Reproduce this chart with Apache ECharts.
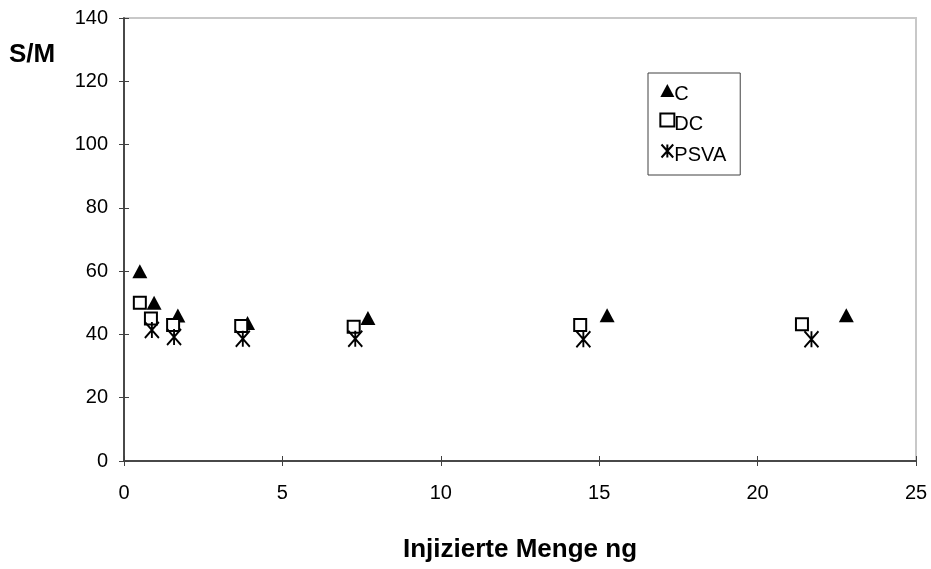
<!doctype html>
<html lang="de">
<head>
    <meta charset="UTF-8">
    <script src="https://cdn.jsdelivr.net/npm/echarts@6/dist/echarts.min.js"></script>
    <title>S/M gegen injizierte Menge</title>
    <style>
        body { margin: 0; background: #fff; }
    </style>
</head>
<body>
<div id="main" style="width: 931px;height:569px;"></div>
<script>
    // Messwerte [Menge ng, S/M]
    var seriesNames = ['C', 'DC', 'PSVA'];
    var dataC = [[0.5, 60], [0.95, 50], [1.7, 46], [3.9, 43.6], [7.7, 45.2], [15.25, 46.1], [22.8, 46.1]];
    var dataDC = [[0.5, 50], [0.85, 45], [1.55, 43], [3.7, 42.7], [7.25, 42.4], [14.4, 43], [21.4, 43.2]];
    var dataPSVA = [[0.88, 41.4], [1.58, 39.2], [3.75, 38.6], [7.3, 38.6], [14.5, 38.5], [21.7, 38.5]];

    var font = 'Liberation Sans, Arial, sans-serif';
    var starPath = 'path://M0,-10L0,10M-9,-10L9,10M-9,10L9,-10';

    var myChart = echarts.init(document.getElementById('main'));

    // Achsen doppelt, damit die Striche durch die Achse gehen
    var xBase = {
        type: 'value', min: 0, max: 25, interval: 5,
        axisLine: {lineStyle: {color: '#404040', width: 1.5}},
        splitLine: {show: false}
    };
    var yBase = {
        type: 'value', min: 0, max: 140, interval: 20,
        axisLine: {lineStyle: {color: '#404040', width: 1.5}},
        splitLine: {show: false}
    };

    var option = {
        animation: false,
        textStyle: {fontFamily: font},
        title: {
            text: 'S/M', left: 9, top: 42, padding: 0,
            textStyle: {fontFamily: font, fontSize: 26, fontWeight: 'bold', color: '#000'}
        },
        grid: {
            left: 124, right: 15, top: 18, bottom: 108,
            show: true, borderColor: '#c8c8c8', borderWidth: 2
        },
        legend: {
            orient: 'vertical', left: 648, top: 73,
            data: seriesNames,
            borderColor: '#404040', borderWidth: 1,
            padding: [11, 14, 10, 11],
            itemGap: 8, itemWidth: 14, itemHeight: 13,
            formatter: '{t|{name}}',
            textStyle: {
                fontFamily: font, fontSize: 20, color: '#000',
                rich: {t: {fontFamily: font, fontSize: 20, color: '#000', padding: [8, 0, 0, -5]}}
            }
        },
        xAxis: [
            Object.assign({}, xBase, {
                name: 'Injizierte Menge ng', nameLocation: 'middle', nameGap: 76,
                nameTextStyle: {fontFamily: font, fontSize: 26, fontWeight: 'bold', color: '#000'},
                axisTick: {length: 5, lineStyle: {color: '#404040'}},
                axisLabel: {fontFamily: font, fontSize: 20, color: '#000', margin: 22}
            }),
            Object.assign({}, xBase, {
                position: 'bottom',
                axisTick: {inside: true, length: 5, lineStyle: {color: '#404040'}},
                axisLabel: {show: false}
            })
        ],
        yAxis: [
            Object.assign({}, yBase, {
                axisTick: {length: 5, lineStyle: {color: '#404040'}},
                axisLabel: {fontFamily: font, fontSize: 20, color: '#000', margin: 16}
            }),
            Object.assign({}, yBase, {
                position: 'left',
                axisTick: {inside: true, length: 5, lineStyle: {color: '#404040'}},
                axisLabel: {show: false}
            })
        ],
        series: [
            {
                name: 'C', type: 'scatter', data: dataC,
                symbol: 'triangle', symbolSize: [15, 14],
                itemStyle: {color: '#000', opacity: 1}
            },
            {
                name: 'DC', type: 'scatter', data: dataDC,
                symbol: 'rect', symbolSize: 12,
                itemStyle: {color: '#fff', borderColor: '#000', borderWidth: 2, opacity: 1}
            },
            {
                name: 'PSVA', type: 'scatter', data: dataPSVA,
                symbol: starPath, symbolSize: [14, 16],
                itemStyle: {color: 'none', borderColor: '#000', borderWidth: 2, opacity: 1}
            }
        ]
    };

    myChart.setOption(option);
</script>
</body>
</html>
